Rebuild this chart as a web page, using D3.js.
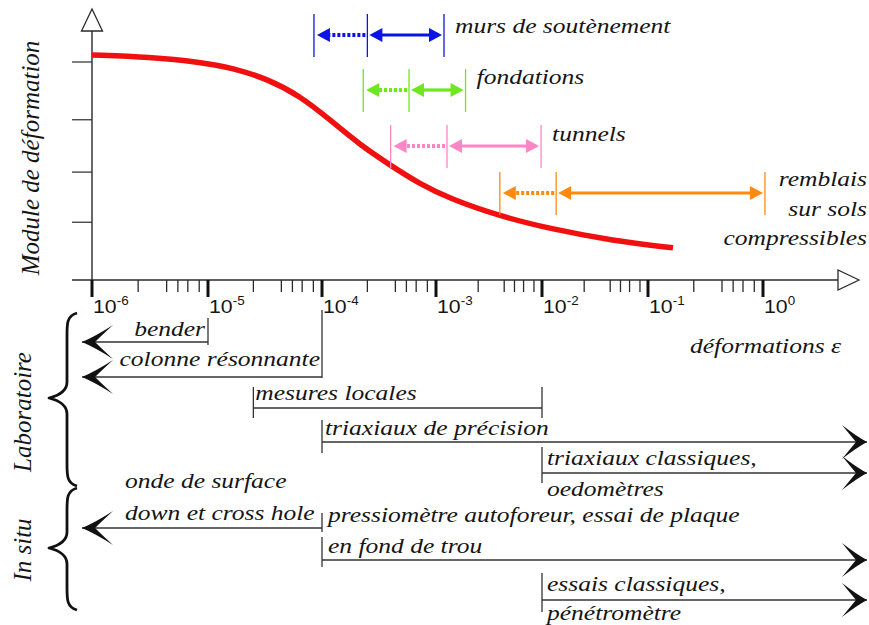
<!DOCTYPE html>
<html>
<head>
<meta charset="utf-8">
<script src="https://cdn.jsdelivr.net/npm/d3@7/dist/d3.min.js"></script>
<style>
  html, body { margin: 0; padding: 0; background: #fff; }
  svg { display: block; }
  .serif { font-family: "Liberation Serif", "Times New Roman", serif; font-style: italic; fill: #151515; }
  .sans { font-family: "Liberation Sans", Arial, sans-serif; fill: #151515; }
</style>
</head>
<body>
<svg id="chart" width="869" height="625"></svg>
<script>
// ---------------- DATA ----------------
// x axis decades (strain) and their labels
const decades = [1e-6, 1e-5, 1e-4, 1e-3, 1e-2, 1e-1, 1];
const decadeExponents = ["-6", "-5", "-4", "-3", "-2", "-1", "0"];
const minorMultipliers = [2.5, 4.4, 5.5, 6.7, 8.4];

// y axis ticks (module, arbitrary units)
const yTickValues = [1.06, 1.98, 2.94, 4.0];

// red curve : module de déformation vs strain
const curveStrain = [1e-6, 3.16e-6, 8.5e-6, 1.66e-5, 3.3e-5, 6.4e-5, 1.175e-4, 2.15e-4, 3.95e-4, 7.24e-4, 1.36e-3, 4.02e-3, 1.19e-2, 4.68e-2, 0.165];
const curveModule = [4.13, 4.09, 4.00, 3.89, 3.69, 3.38, 2.94, 2.48, 2.11, 1.76, 1.49, 1.17, 0.94, 0.72, 0.59];

// ouvrages : ranges of strain (low = dotted part start, mid, high)
const ouvrages = ["murs de soutènement", "fondations", "tunnels", "remblais\nsur sols\ncompressibles"];
const ouvrageLow = [8.5e-5, 2.3e-4, 4.0e-4, 4.0e-3];
const ouvrageMid = [2.5e-4, 5.8e-4, 1.27e-3, 1.36e-2];
const ouvrageHigh = [1.19e-3, 1.9e-3, 9.8e-3, 1.04];
const ouvrageColors = ["#0a14e6", "#6fe61e", "#ff86c6", "#ff8a12"];

// essais : ranges of strain (null = open ended, arrow)
const essais = ["bender", "colonne résonnante", "mesures locales", "triaxiaux de précision",
  "triaxiaux classiques,\noedomètres", "onde de surface\ndown et cross hole",
  "pressiomètre autoforeur, essai de plaque\nen fond de trou", "essais classiques,\npénétromètre"];
const essaiMin = [null, null, 2.5e-5, 1e-4, 1e-2, null, 1e-4, 1e-2];
const essaiMax = [1e-5, 1e-4, 1e-2, null, null, 1e-4, null, null];
const groups = ["Laboratoire", "In situ"];

// ---------------- LAYOUT ----------------
const svg = d3.select("#chart");
const SX = 1.16; // horizontal stretch of the original figure's text
const x = d3.scaleLog().domain(decades).range([92, 208, 322, 436, 542, 648, 763]);
const y = d3.scaleLinear().domain([0, 5]).range([280, 7.5]);
const axisY = y(0), axisX = x(1e-6);
const ink = "#2a2a2a";

function sText(g, tx, ty, str, anchor, cls, size) {
  return g.append("text")
    .attr("class", cls || "serif")
    .attr("transform", `translate(${tx},${ty}) scale(${SX},1)`)
    .attr("text-anchor", anchor || "start")
    .style("font-size", (size || 22) + "px")
    .text(str);
}

// ---------------- AXES ----------------
const gAxes = svg.append("g");
gAxes.append("line").attr("x1", 72).attr("x2", 839).attr("y1", axisY).attr("y2", axisY)
  .attr("stroke", ink).attr("stroke-width", 1.4);
gAxes.append("line").attr("x1", axisX).attr("x2", axisX).attr("y1", 31).attr("y2", 290)
  .attr("stroke", ink).attr("stroke-width", 1.4);
gAxes.append("path")
  .attr("d", `M${axisX},9 L${axisX - 10.5},31 L${axisX + 10.5},31 Z`)
  .attr("fill", "#fff").attr("stroke", ink).attr("stroke-width", 1.3);
gAxes.append("path")
  .attr("d", `M859,${axisY} L838,${axisY - 10} L838,${axisY + 10} Z`)
  .attr("fill", "#fff").attr("stroke", ink).attr("stroke-width", 1.3);

gAxes.selectAll(".ytick").data(yTickValues).join("line")
  .attr("x1", 72).attr("x2", axisX)
  .attr("y1", d => y(d)).attr("y2", d => y(d))
  .attr("stroke", ink).attr("stroke-width", 1.2);

const minorTicks = [];
decades.slice(0, -1).forEach(d => minorMultipliers.forEach(m => minorTicks.push(d * m)));
gAxes.selectAll(".xminor").data(minorTicks).join("line")
  .attr("x1", d => x(d)).attr("x2", d => x(d))
  .attr("y1", axisY).attr("y2", axisY + 12)
  .attr("stroke", ink).attr("stroke-width", 1.3);
gAxes.selectAll(".xmajor").data(decades).join("line")
  .attr("x1", d => x(d)).attr("x2", d => x(d))
  .attr("y1", axisY).attr("y2", axisY + 17)
  .attr("stroke", "#111").attr("stroke-width", 3);
decades.forEach((d, i) => {
  const t = svg.append("text").attr("class", "sans")
    .attr("transform", `translate(${x(d) + 1},313) scale(1.12,1)`)
    .style("font-size", "19px");
  t.append("tspan").text("10");
  t.append("tspan").attr("dy", -8).style("font-size", "12px").text(decadeExponents[i]);
});

svg.append("text").attr("class", "serif")
  .attr("transform", `translate(39,158) rotate(-90)`)
  .attr("text-anchor", "middle").style("font-size", "25px")
  .text("Module de déformation");
sText(svg, 690, 353, "déformations  ε", "start");

// ---------------- CURVE ----------------
const curvePts = curveStrain.map((s, i) => [s, curveModule[i]]);
svg.append("path")
  .datum(curvePts)
  .attr("d", d3.line().x(d => x(d[0])).y(d => y(d[1])).curve(d3.curveBasis))
  .attr("fill", "none").attr("stroke", "#f01010").attr("stroke-width", 5.5)
  .attr("stroke-linecap", "butt");

// ---------------- OUVRAGES (coloured ranges) ----------------
const ouvRowY = [35, 90, 146, 193];
const ouvTextDy = [-2, -6, -5, null];
function headPath(tipX, cy, dir, len, hw) {
  return `M${tipX},${cy} L${tipX - dir * len},${cy - hw} L${tipX - dir * len},${cy + hw} Z`;
}
ouvrages.forEach((name, i) => {
  const g = svg.append("g");
  const cy = ouvRowY[i];
  const col = ouvrageColors[i];
  const xl = x(ouvrageLow[i]), xm = x(ouvrageMid[i]), xh = x(ouvrageHigh[i]);
  [xl, xm, xh].forEach(px => g.append("line")
    .attr("x1", px).attr("x2", px).attr("y1", cy - 21).attr("y2", cy + 22)
    .attr("stroke", col).attr("stroke-width", 1.3));
  const L = 13, HW = 7;
  g.append("line").attr("x1", xm - 2).attr("x2", xl + 3 + L - 1).attr("y1", cy).attr("y2", cy)
    .attr("stroke", col).attr("stroke-width", 4).attr("stroke-dasharray", "3,2");
  g.append("path").attr("d", headPath(xl + 3, cy, -1, L, HW)).attr("fill", col);
  g.append("line").attr("x1", xm + 2 + L - 1).attr("x2", xh - 2 - L + 1).attr("y1", cy).attr("y2", cy)
    .attr("stroke", col).attr("stroke-width", 3.2);
  g.append("path").attr("d", headPath(xm + 2, cy, -1, L, HW)).attr("fill", col);
  g.append("path").attr("d", headPath(xh - 2, cy, 1, L, HW)).attr("fill", col);
  const lines = name.split("\n");
  if (lines.length === 1) {
    sText(g, xh + 11, cy + ouvTextDy[i], name, "start");
  } else {
    lines.forEach((ln, k) => sText(g, 867, 186 + k * 29.5, ln, "end"));
  }
});

// ---------------- ESSAIS (black ranges) ----------------
const essRowY = [342, 377, 408, 442, 473, 528, 560, 600];
const essTick = [[-24, 3], [-67, 1], [-21, 10], [-22, 11], [-26, 10], [-15, 4], [-23, 7], [-27, 12]];
const essLabel = [
  ["endBefore", -3, -6], ["endBefore", -2, -11], ["start", 2, -8], ["start", 3, -7],
  ["start", 5, -8, 23], ["free", 125, -40, -8], ["start", 6, -38, -7], ["start", 5, -9, 20]
];
const LEFT_EDGE = 82, RIGHT_EDGE = 867;
function leftChevron(tx, ty) {
  return `M${tx},${ty} Q${tx + 14},${ty - 6} ${tx + 31},${ty - 17} Q${tx + 19},${ty - 6} ${tx + 13},${ty}` +
         ` Q${tx + 19},${ty + 6} ${tx + 31},${ty + 17} Q${tx + 14},${ty + 6} ${tx},${ty} Z`;
}
function rightChevron(tx, ty) {
  return `M${tx},${ty} Q${tx - 11},${ty - 6} ${tx - 25},${ty - 17} Q${tx - 16},${ty - 6} ${tx - 11},${ty}` +
         ` Q${tx - 16},${ty + 6} ${tx - 25},${ty + 17} Q${tx - 11},${ty + 6} ${tx},${ty} Z`;
}
essais.forEach((name, i) => {
  const g = svg.append("g");
  const cy = essRowY[i];
  const x0 = essaiMin[i] === null ? LEFT_EDGE : x(essaiMin[i]);
  const x1 = essaiMax[i] === null ? RIGHT_EDGE : x(essaiMax[i]);
  g.append("line").attr("x1", x0).attr("x2", x1).attr("y1", cy).attr("y2", cy)
    .attr("stroke", "#333").attr("stroke-width", 1.4);
  if (essaiMin[i] === null) g.append("path").attr("d", leftChevron(x0, cy)).attr("fill", "#111");
  else g.append("line").attr("x1", x0).attr("x2", x0).attr("y1", cy + essTick[i][0]).attr("y2", cy + essTick[i][1])
    .attr("stroke", "#333").attr("stroke-width", 1.3);
  if (essaiMax[i] === null) g.append("path").attr("d", rightChevron(x1, cy)).attr("fill", "#111");
  else g.append("line").attr("x1", x1).attr("x2", x1).attr("y1", cy + essTick[i][0]).attr("y2", cy + essTick[i][1])
    .attr("stroke", "#333").attr("stroke-width", 1.3);

  const lay = essLabel[i];
  const lines = name.split("\n");
  if (lay[0] === "endBefore") {
    sText(g, x1 + lay[1], cy + lay[2], lines[0], "end");
  } else if (lay[0] === "start") {
    lines.forEach((ln, k) => sText(g, x0 + lay[1], cy + lay[2 + k], ln, "start"));
  } else {
    lines.forEach((ln, k) => sText(g, lay[1], cy + lay[2 + k], ln, "start"));
  }
});

// ---------------- GROUP BRACES ----------------
const braceG = svg.append("g");
const braceDefs = [
  { top: 313, tip: 398, bottom: 486 },
  { top: 488, tip: 548, bottom: 610 }
];
braceDefs.forEach((b, i) => {
  const xv = 67, xt = 49, xe = 77;
  const d = `M${xe},${b.top} C${xv},${b.top + 3} ${xv},${b.top + 10} ${xv},${b.top + 22}` +
    ` L${xv},${b.tip - 16} C${xv},${b.tip - 6} ${xt + 8},${b.tip - 2} ${xt},${b.tip}` +
    ` C${xt + 8},${b.tip + 2} ${xv},${b.tip + 6} ${xv},${b.tip + 16}` +
    ` L${xv},${b.bottom - 22} C${xv},${b.bottom - 10} ${xv},${b.bottom - 3} ${xe},${b.bottom}`;
  braceG.append("path").attr("d", d).attr("fill", "none")
    .attr("stroke", "#111").attr("stroke-width", 2.8).attr("stroke-linejoin", "round");
  svg.append("text").attr("class", "serif")
    .attr("transform", `translate(31,${(i === 0 ? 412 : 550)}) rotate(-90)`)
    .attr("text-anchor", "middle").style("font-size", "25px")
    .text(groups[i]);
});
</script>
</body>
</html>
